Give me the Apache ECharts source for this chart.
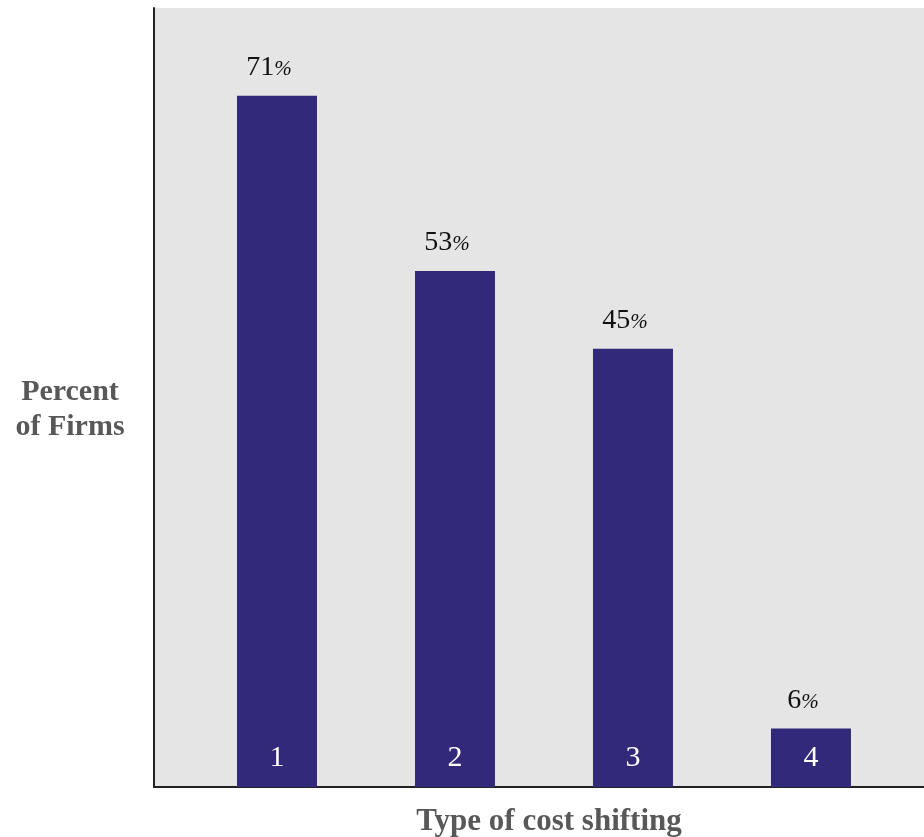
<!DOCTYPE html>
<html>
<head>
<meta charset="utf-8">
<script src="https://cdn.jsdelivr.net/npm/echarts@6/dist/echarts.min.js"></script>
<style>
html,body{margin:0;padding:0;background:#fff;}
#main{width:924px;height:837px;}
</style>
</head>
<body>
<div id="main"></div>
<script>
// data
let categories = ['1', '2', '3', '4'];
let positions = [1, 2, 3, 4];
let percents = [71, 53, 45, 6];
let yTitle = 'Percent\nof Firms';
let xTitle = 'Type of cost shifting';

let serif = '"Liberation Serif", "DejaVu Serif", serif';

let barData = positions.map(function (p, i) { return [p, percents[i]]; });

let myChart = echarts.init(document.getElementById("main"));
let option = {
    animation: false,
    title: {
        text: yTitle,
        left: 70,
        top: 375,
        padding: 0,
        textAlign: 'center',
        textStyle: {
            fontFamily: serif,
            fontWeight: 'bold',
            fontSize: 30,
            lineHeight: 35,
            color: '#585858'
        }
    },
    grid: {
        left: 154,
        right: 0,
        top: 8,
        bottom: 50,
        outerBoundsMode: 'none',
        containLabel: false,
        show: true,
        backgroundColor: '#e5e5e5',
        borderWidth: 0
    },
    xAxis: {
        type: 'value',
        min: 0.309,
        max: 4.635,
        name: xTitle,
        nameLocation: 'middle',
        nameGap: 19,
        nameTextStyle: {
            fontFamily: serif,
            fontWeight: 'bold',
            fontSize: 31,
            color: '#585858',
            padding: [0, 0, 0, 20]
        },
        axisLine: {show: true, lineStyle: {color: '#222', width: 2}},
        axisTick: {show: false},
        axisLabel: {show: false},
        splitLine: {show: false}
    },
    yAxis: {
        type: 'value',
        min: 0,
        max: 80,
        axisLine: {show: true, lineStyle: {color: '#222', width: 2}},
        axisTick: {show: false},
        axisLabel: {show: false},
        splitLine: {show: false}
    },
    series: [{
        name: 'bars',
        type: 'bar',
        data: barData,
        barWidth: 80,
        itemStyle: {color: '#32297a'},
        label: {
            show: true,
            position: 'insideBottom',
            distance: 14,
            formatter: function (p) { return categories[p.dataIndex]; },
            fontFamily: serif,
            fontSize: 30,
            color: '#fff'
        },
        z: 2
    }, {
        name: 'values',
        type: 'bar',
        data: barData,
        barWidth: 80,
        barGap: '-100%',
        itemStyle: {color: 'transparent'},
        label: {
            show: true,
            position: 'top',
            distance: 14,
            offset: [-8, 0],
            formatter: function (p) { return '{n|' + p.value[1] + '}{p|%}'; },
            rich: {
                n: {fontFamily: serif, fontSize: 28, color: '#111'},
                p: {fontFamily: serif, fontSize: 21, fontStyle: 'italic', color: '#111', padding: [3, 0, 0, 0]}
            }
        },
        z: 3
    }]
};
myChart.setOption(option);
</script>
</body>
</html>
